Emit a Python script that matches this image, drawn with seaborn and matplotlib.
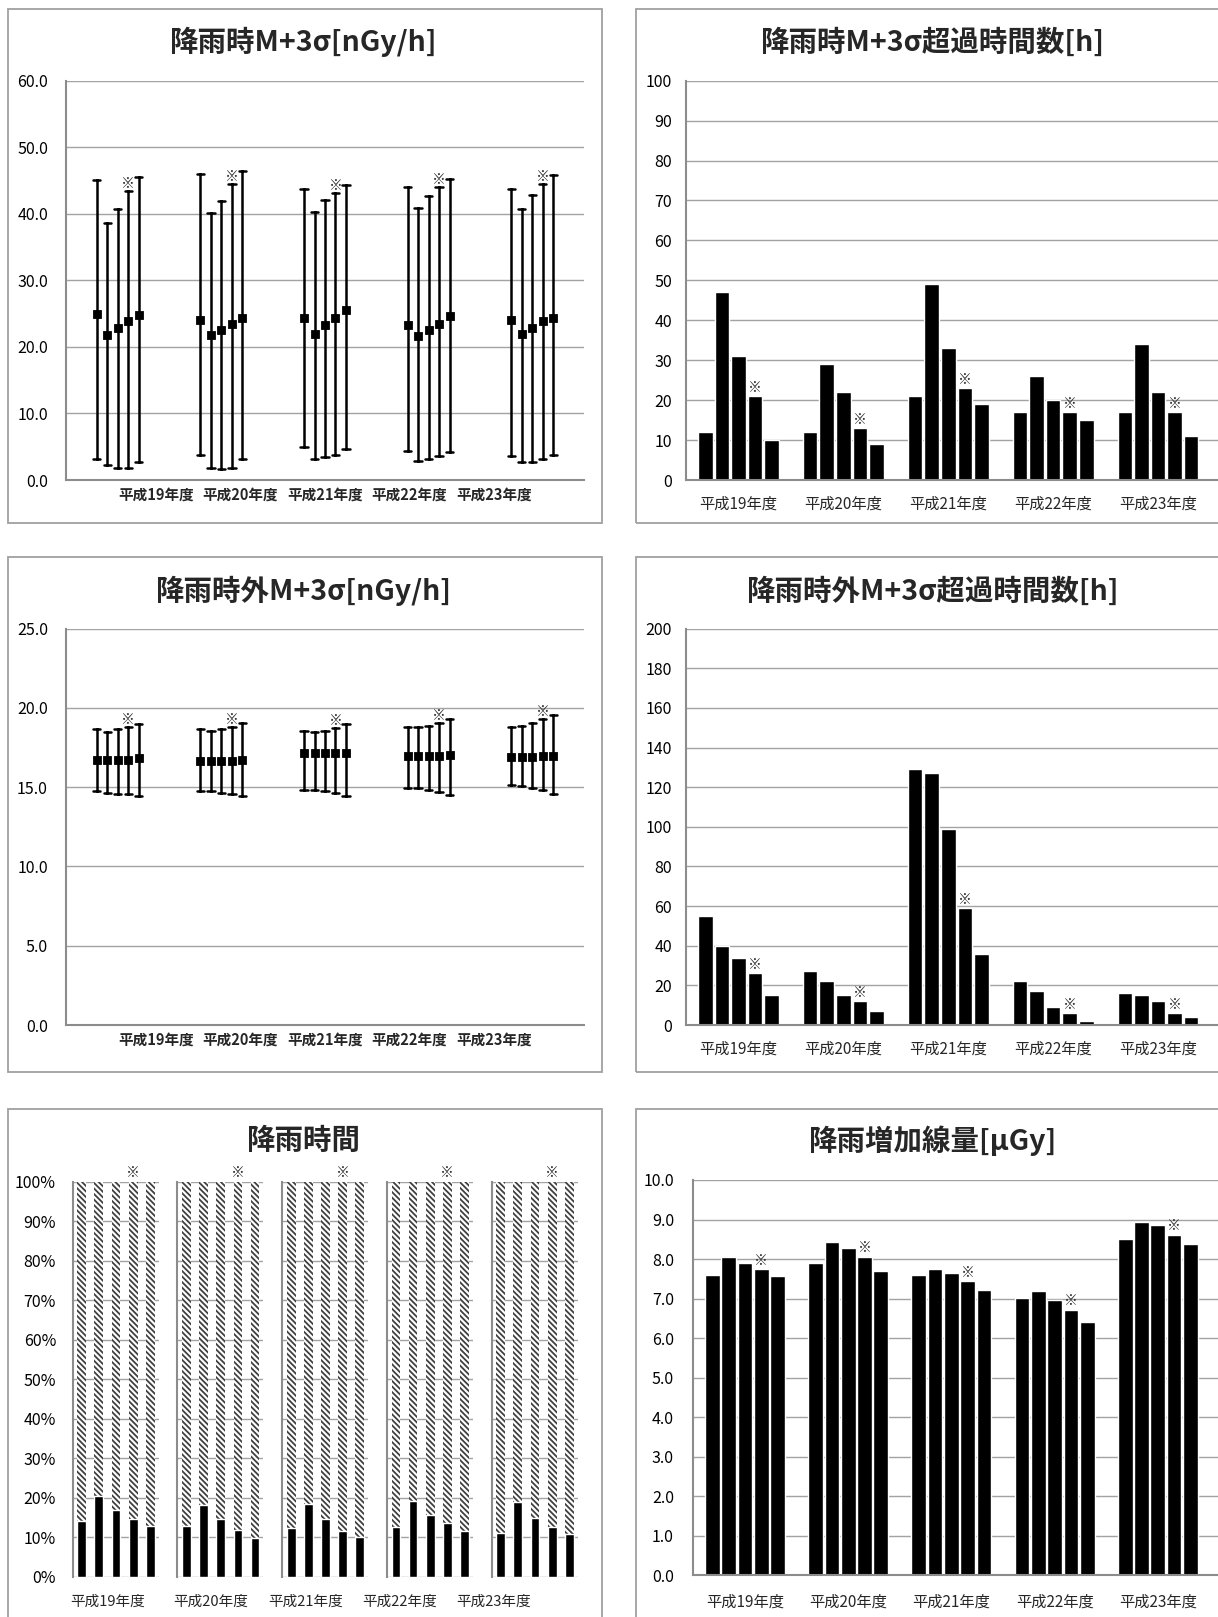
import numpy as np
import pandas as pd
import matplotlib
matplotlib.use("Agg")
import matplotlib.pyplot as plt
import seaborn as sns
from matplotlib.patches import Rectangle
from matplotlib.ticker import FuncFormatter

# ---------------- data ----------------
years = ["平成19年度", "平成20年度", "平成21年度", "平成22年度", "平成23年度"]
series = ["S1", "S2", "S3", "S4", "S5"]
mark_idx = 3  # series flagged with ※

# 降雨時M+3σ[nGy/h] : centre value and range
rain_m3s_mean = [[24.9, 21.8, 22.8, 23.9, 24.8],
                 [24.1, 21.8, 22.6, 23.4, 24.3],
                 [24.3, 21.9, 23.3, 24.3, 25.5],
                 [23.3, 21.6, 22.5, 23.4, 24.6],
                 [24.1, 21.9, 22.9, 23.9, 24.3]]
rain_m3s_high = [[45.1, 38.6, 40.7, 43.5, 45.5],
                 [46.0, 40.1, 41.9, 44.5, 46.4],
                 [43.8, 40.3, 42.1, 43.2, 44.3],
                 [44.1, 40.8, 42.7, 44.1, 45.2],
                 [43.8, 40.7, 42.9, 44.5, 45.9]]
rain_m3s_low = [[3.2, 2.3, 1.8, 1.8, 2.7],
                [3.8, 1.8, 1.6, 1.8, 3.1],
                [5.0, 3.1, 3.5, 3.8, 4.6],
                [4.3, 2.8, 3.2, 3.6, 4.2],
                [3.6, 2.7, 2.7, 3.2, 3.8]]

# 降雨時M+3σ超過時間数[h]
rain_exceed = [[12, 47, 31, 21, 10],
               [12, 29, 22, 13, 9],
               [21, 49, 33, 23, 19],
               [17, 26, 20, 17, 15],
               [17, 34, 22, 17, 11]]

# 降雨時外M+3σ[nGy/h]
dry_m3s_mean = [[16.74, 16.74, 16.74, 16.74, 16.82],
                [16.63, 16.63, 16.63, 16.63, 16.74],
                [17.13, 17.13, 17.13, 17.13, 17.13],
                [16.95, 16.95, 16.95, 16.95, 17.05],
                [16.88, 16.88, 16.88, 16.99, 16.99]]
dry_m3s_high = [[18.64, 18.49, 18.64, 18.77, 19.00],
                [18.64, 18.56, 18.64, 18.77, 19.06],
                [18.56, 18.49, 18.56, 18.72, 19.00],
                [18.77, 18.77, 18.87, 19.06, 19.27],
                [18.77, 18.87, 19.06, 19.27, 19.52]]
dry_m3s_low = [[14.75, 14.64, 14.58, 14.58, 14.43],
               [14.75, 14.75, 14.64, 14.58, 14.43],
               [14.85, 14.85, 14.75, 14.64, 14.43],
               [14.94, 14.94, 14.85, 14.69, 14.50],
               [15.15, 15.10, 14.96, 14.85, 14.58]]

# 降雨時外M+3σ超過時間数[h]
dry_exceed = [[55, 40, 34, 26, 15],
              [27, 22, 15, 12, 7],
              [129, 127, 99, 59, 36],
              [22, 17, 9, 6, 2],
              [16, 15, 12, 6, 4]]

# 降雨時間 (% of time raining)
rain_ratio = [[14.2, 20.4, 17.0, 14.5, 12.8],
              [12.8, 18.2, 14.5, 11.8, 9.9],
              [12.3, 18.5, 14.5, 11.5, 10.1],
              [12.6, 19.2, 15.6, 13.6, 11.6],
              [11.1, 18.9, 14.9, 12.6, 10.7]]

# 降雨増加線量[μGy]
rain_dose = [[7.59, 8.06, 7.91, 7.75, 7.56],
             [7.91, 8.43, 8.27, 8.06, 7.71],
             [7.59, 7.75, 7.66, 7.44, 7.21],
             [7.01, 7.19, 6.97, 6.72, 6.41],
             [8.52, 8.95, 8.86, 8.62, 8.39]]

titles = ["降雨時M+3σ[nGy/h]", "降雨時M+3σ超過時間数[h]",
          "降雨時外M+3σ[nGy/h]", "降雨時外M+3σ超過時間数[h]",
          "降雨時間", "降雨増加線量[μGy]"]

# ---------------- style ----------------
sns.set_style("white")
plt.rcParams["font.family"] = ["Noto Sans CJK JP", "DejaVu Sans"]
plt.rcParams["hatch.linewidth"] = 1.3

W, H = 1218, 1617
fig = plt.figure(figsize=(W / 100, H / 100), dpi=100)
fig.patch.set_facecolor("white")

GRID = "#a3a3a3"
SPINE = "#8c8c8c"
BLACKS = ["black"] * 5
MARK_COLOR = "#333333"


def rect(x0, y0, x1, y1):
    return [x0 / W, 1 - y1 / H, (x1 - x0) / W, (y1 - y0) / H]


def long_range(low, mid, high):
    rows = []
    for i, y in enumerate(years):
        for j, s in enumerate(series):
            for v in (low[i][j], mid[i][j], high[i][j]):
                rows.append((y, s, v))
    return pd.DataFrame(rows, columns=["year", "series", "value"])


def long_vals(vals):
    return pd.DataFrame([(y, s, vals[i][j]) for i, y in enumerate(years)
                         for j, s in enumerate(series)],
                        columns=["year", "series", "value"])


def style_axes(ax, ymax, step, fmt, pad):
    ax.set_ylim(0, ymax)
    ax.set_yticks(np.arange(0, ymax + step / 2, step))
    ax.yaxis.set_major_formatter(FuncFormatter(fmt))
    ax.grid(axis="y", color=GRID, linewidth=1.0)
    ax.grid(axis="x", visible=False)
    ax.set_axisbelow(True)
    for s in ["top", "right"]:
        ax.spines[s].set_visible(False)
    for s in ["left", "bottom"]:
        ax.spines[s].set_color(SPINE)
        ax.spines[s].set_linewidth(1.5)
    ax.tick_params(axis="y", length=0, pad=pad, labelsize=11.5, colors="black")
    ax.set_xlabel("")
    ax.set_ylabel("")
    ax.set_facecolor("white")


# ---------------- frames and titles ----------------
boxes = [(7.5, 9, 602, 523), (636, 9, 1231, 523),
         (7.5, 557, 602, 1072), (636, 557, 1231, 1072),
         (7.5, 1109, 602, 1630), (636, 1109, 1231, 1630)]
for (x0, y0, x1, y1) in boxes:
    fig.add_artist(Rectangle((x0 / W, 1 - y1 / H), (x1 - x0) / W, (y1 - y0) / H,
                             transform=fig.transFigure, fill=False,
                             edgecolor="#a0a0a0", linewidth=1.3))
title_pos = [(304, 42), (933, 42), (304, 591), (933, 591), (304, 1141), (933, 1141)]
for t, (cx, cy) in zip(titles, title_pos):
    fig.text(cx / W, 1 - cy / H, t, ha="center", va="center",
             fontsize=20.5, fontweight="bold")

# compressed year labels used by the range charts
range_label_pos = [2 + (k - 2) * 0.815 for k in range(5)]


def range_chart(box, low, mid, high, ymax, step, fmt):
    ax = fig.add_axes(rect(*box))
    df = long_range(low, mid, high)
    dodge = 0.405
    sns.pointplot(data=df, x="year", y="value", hue="series",
                  estimator="median", errorbar=lambda v: (v.min(), v.max()),
                  dodge=dodge, linestyle="none", markers="s", markersize=4.6,
                  capsize=0.07, palette=BLACKS, err_kws={"linewidth": 1.8},
                  legend=False, ax=ax)
    style_axes(ax, ymax, step, fmt, pad=13)
    ax.set_xlim(-0.5, 4.5)
    ax.set_xticks(range_label_pos)
    ax.set_xticklabels(years, fontsize=10.5, fontweight="bold")
    ax.tick_params(axis="x", length=0, pad=5)
    offs = np.linspace(-dodge / 2, dodge / 2, 5)
    for i in range(5):
        ax.annotate("※", (i + offs[mark_idx], high[i][mark_idx]),
                    xytext=(0, 0), textcoords="offset points",
                    ha="center", va="bottom", fontsize=10, color=MARK_COLOR)
    return ax


def bar_chart(box, vals, ymax, step, fmt, xmax, gap, pad_y, pad_x):
    ax = fig.add_axes(rect(*box))
    df = long_vals(vals)
    width = 0.79
    sns.barplot(data=df, x="year", y="value", hue="series", palette=BLACKS,
                width=width, gap=gap, saturation=1, errorbar=None,
                legend=False, ax=ax)
    style_axes(ax, ymax, step, fmt, pad=pad_y)
    ax.set_xlim(-0.5, xmax)
    ax.set_xticks(range(5))
    ax.set_xticklabels(years, fontsize=11)
    ax.tick_params(axis="x", length=0, pad=pad_x)
    offs = (np.arange(5) - 2) * width / 5
    for i in range(5):
        ax.annotate("※", (i + offs[mark_idx], vals[i][mark_idx]),
                    xytext=(0, 1), textcoords="offset points",
                    ha="center", va="bottom", fontsize=10, color=MARK_COLOR)
    return ax


f1 = lambda v, p: f"{v:.1f}"
f0 = lambda v, p: f"{v:.0f}"

# chart 1
range_chart((66, 80.7, 584, 480), rain_m3s_low, rain_m3s_mean, rain_m3s_high,
            60, 10, f1)
# chart 2
bar_chart((686, 80.7, 1218, 480), rain_exceed, 100, 10, f0,
          -0.5 + 532 / 104.9, 0.12, 10, 11)
# chart 3
range_chart((66, 628.6, 584, 1025), dry_m3s_low, dry_m3s_mean, dry_m3s_high,
            25, 5, f1)
# chart 4
bar_chart((686, 628.6, 1218, 1025), dry_exceed, 200, 20, f0,
          -0.5 + 532 / 104.9, 0.12, 10, 11)
# chart 6
bar_chart((693.4, 1180, 1218, 1575.4), rain_dose, 10, 1, f1,
          -0.5 + 524.6 / 103.2, 0.10, 14, 13)

# chart 5 : one small panel per year
for i, y in enumerate(years):
    x0 = 72.7 + i * 104.75
    ax = fig.add_axes(rect(x0, 1181.7, x0 + 86, 1576.7))
    d = pd.DataFrame({"series": series, "total": [100] * 5, "rain": rain_ratio[i]})
    sns.barplot(data=d, x="series", y="total", color="white",
                hatch="\\\\\\\\\\\\", edgecolor="#404040", linewidth=0,
                width=0.51, saturation=1, errorbar=None, ax=ax)
    sns.barplot(data=d, x="series", y="rain", color="black", width=0.51,
                saturation=1, errorbar=None, ax=ax)
    style_axes(ax, 100, 10, lambda v, p: f"{v:.0f}%", pad=8)
    ax.spines["bottom"].set_visible(False)
    ax.set_xlim(-0.525, -0.525 + 86 / 17.15)
    ax.set_xticks([])
    ax.set_ylim(0, 100)
    if i == 0:
        ax.tick_params(axis="y", length=4, color=SPINE, width=1.0)
    else:
        ax.tick_params(axis="y", length=2, color=SPINE, labelleft=False)
    ax.annotate("※", (mark_idx, 100), xytext=(0, 1), textcoords="offset points",
                ha="center", va="bottom", fontsize=10, color=MARK_COLOR,
                annotation_clip=False)

for k, cx in enumerate([108, 211, 306, 400, 494]):
    fig.text(cx / W, 1 - 1602 / H, years[k], ha="center", va="center",
             fontsize=10.5)

fig.savefig("out.png", dpi=100, facecolor="white")
